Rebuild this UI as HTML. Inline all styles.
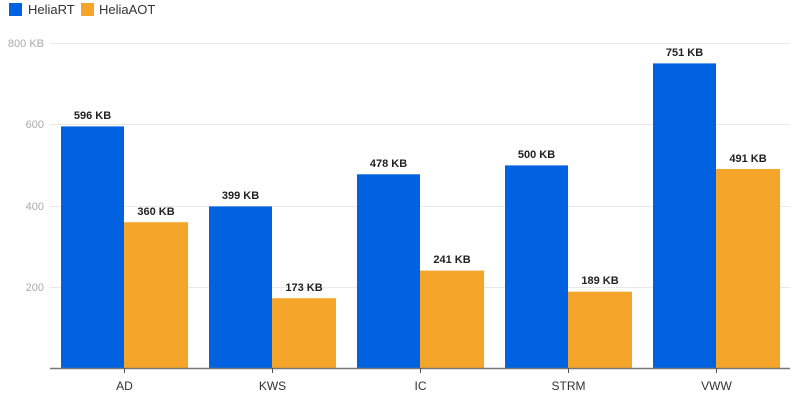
<!DOCTYPE html>
<html><head><meta charset="utf-8"><style>
body{margin:0;background:#fff;width:800px;height:400px;overflow:hidden}
text{font-family:"Liberation Sans",sans-serif}
</style></head><body>
<svg width="800" height="400" xmlns="http://www.w3.org/2000/svg">
<rect x="9" y="3" width="13" height="13" fill="#0062E0"/>
<text x="28" y="14" font-size="13" fill="#333">HeliaRT</text>
<rect x="81" y="3" width="13" height="13" fill="#F5A62A"/>
<text x="99" y="14" font-size="13" fill="#333">HeliaAOT</text>
<g stroke="#e8e8e8" stroke-width="1">
<line x1="50" x2="790" y1="43.5" y2="43.5"/>
<line x1="50" x2="790" y1="124.5" y2="124.5"/>
<line x1="50" x2="790" y1="206.5" y2="206.5"/>
<line x1="50" x2="790" y1="287.5" y2="287.5"/>
</g>
<g font-size="11" fill="#aaa" text-anchor="end">
<text x="44" y="47">800 KB</text>
<text x="44" y="128">600</text>
<text x="44" y="210">400</text>
<text x="44" y="291">200</text>
</g>
<g id="bars"></g>
<g fill="#0062E0">
<rect x="61" y="126.4" width="63" height="242.1"/>
<rect x="209" y="206.4" width="63" height="162.1"/>
<rect x="357" y="174.3" width="63" height="194.2"/>
<rect x="505" y="165.4" width="63" height="203.1"/>
<rect x="653" y="63.4" width="63" height="305.1"/>
</g>
<g fill="#F5A62A">
<rect x="124" y="222.2" width="64" height="146.3"/>
<rect x="272" y="298.2" width="64" height="70.3"/>
<rect x="420" y="270.6" width="64" height="97.9"/>
<rect x="568" y="291.7" width="64" height="76.8"/>
<rect x="716" y="169.0" width="64" height="199.5"/>
</g>
<g font-size="11" font-weight="bold" fill="#222" text-anchor="middle">
<text x="92.5" y="119">596 KB</text>
<text x="156" y="215">360 KB</text>
<text x="240.5" y="199">399 KB</text>
<text x="304" y="291">173 KB</text>
<text x="388.5" y="167">478 KB</text>
<text x="452" y="263">241 KB</text>
<text x="536.5" y="158">500 KB</text>
<text x="600" y="284">189 KB</text>
<text x="684.5" y="56">751 KB</text>
<text x="748" y="162">491 KB</text>
</g>
<line x1="50" x2="790" y1="368.5" y2="368.5" stroke="#777" stroke-width="1.5"/>
<g stroke="#555" stroke-width="1">
<line x1="124.5" x2="124.5" y1="368" y2="373"/>
<line x1="272.5" x2="272.5" y1="368" y2="373"/>
<line x1="420.5" x2="420.5" y1="368" y2="373"/>
<line x1="568.5" x2="568.5" y1="368" y2="373"/>
<line x1="716.5" x2="716.5" y1="368" y2="373"/>
</g>
<g font-size="12" fill="#333" text-anchor="middle">
<text x="124.5" y="390">AD</text>
<text x="272.5" y="390">KWS</text>
<text x="420.5" y="390">IC</text>
<text x="568.5" y="390">STRM</text>
<text x="716.5" y="390">VWW</text>
</g>
</svg>
</body></html>
